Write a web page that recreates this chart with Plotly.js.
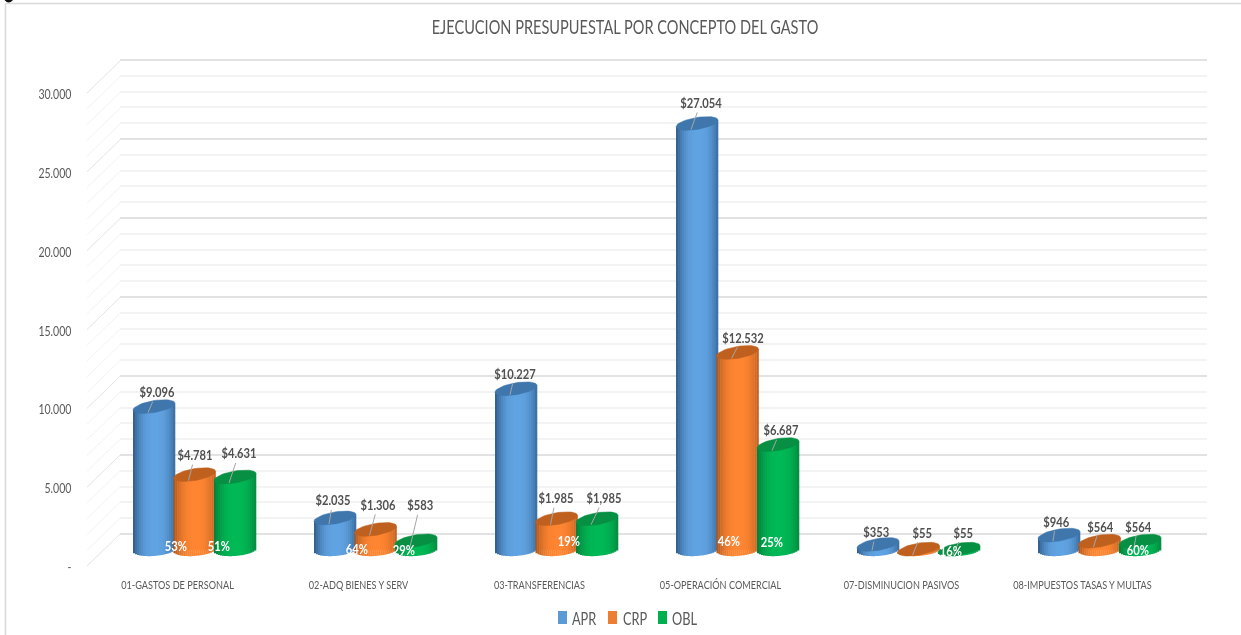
<!DOCTYPE html>
<html>
<head>
<meta charset="utf-8">
<script src="https://cdn.plot.ly/plotly-3.0.1.min.js"></script>
<style>html,body{margin:0;padding:0;background:#fff;overflow:hidden}#chart{width:1241px;height:635px;filter:blur(0.45px)}</style>
</head>
<body>
<div id="chart"></div>
<script>
// ---- data ----
const categories = ['01-GASTOS DE PERSONAL','02-ADQ BIENES Y SERV','03-TRANSFERENCIAS','05-OPERACIÓN COMERCIAL','07-DISMINUCION PASIVOS','08-IMPUESTOS TASAS Y MULTAS'];
const APR = [9096, 2035, 10227, 27054, 353, 946];
const CRP = [4781, 1306, 1985, 12532, 55, 564];
const OBL = [4631, 583, 1985, 6687, 55, 564];
const aprLabels = ['$9.096','$2.035','$10.227','$27.054','$353','$946'];
const crpLabels = ['$4.781','$1.306','$1.985','$12.532','$55','$564'];
const oblLabels = ['$4.631','$583','$1,985','$6.687','$55','$564'];
const crpShare = ['53%','64%','19%','46%','',''];
const oblShare = ['51%','29%','','25%','16%','60%'];
const yTickVals = [0,5000,10000,15000,20000,25000,30000];
const yTickText = ['-','5.000','10.000','15.000','20.000','25.000','30.000'];

// ---- placement (pixels) ----
const W = 1241, H = 635;
const FONT = 'Lato,"Open Sans",sans-serif';
const GREY = '#595959';
const pxPerUnit = 473 / 30000;
const pxPerCat = 181;
const barPx = 42, rx = 21, ry = 6, tilt = 0.16, tiltBottom = 0.07;
const labelOffsets = {
  APR: [[9,-21],[4,-24],[5,-21],[10,-27],[4,-19],[3,-20]],
  CRP: [[6.5,-26],[8.5,-31],[5.5,-27],[11,-21],[9.5,-23],[6.5,-21]],
  OBL: [[10,-30],[10,-42],[13,-27],[9,-21],[10,-23],[4,-21]]
};
const shareOffsets = {
  CRP: [[-18.5,5],[-18.5,2],[12.5,10],[-8.5,10],null,null],
  OBL: [[-16,5],[-12.5,1],null,[-6,9],[-8.5,0],[-2,1]]
};
const series = [
  {name:'APR', values:APR, labels:aprLabels, off:-40.5, base:'#5b9bd5', edge:[52,98,146],  mid:[96,163,226], cap:'#3f76ac'},
  {name:'CRP', values:CRP, labels:crpLabels, off:0,     base:'#ed7d31', edge:[178,88,27],  mid:[255,134,50], cap:'#bf601f', share:crpShare},
  {name:'OBL', values:OBL, labels:oblLabels, off:40.5,  base:'#00b050', edge:[5,130,60],   mid:[0,184,85],   cap:'#078f43', share:oblShare}
];

const px = v => v / W, py = v => 1 - v / H;
const v2u = p => p / pxPerUnit;   // pixel height -> value units

const traces = [];
const annotations = [];

// carriers so that the back wall and the front axes exist
traces.push({type:'scatter', mode:'markers', x:[0.5], y:[15000], xaxis:'x', yaxis:'y', opacity:0, hoverinfo:'skip', showlegend:false});

const STRIPS = 21;
series.forEach(s => {
  const center = s.off / pxPerCat;
  const fullW = barPx / pxPerCat;
  // main column (carries the values)
  traces.push({type:'bar', name:s.name, xaxis:'x2', yaxis:'y2',
    x:categories.map((_,i)=>i), y:s.values, width:fullW*0.8, offset:center-fullW*0.4,
    marker:{color:s.base, line:{width:0}}, hoverinfo:'y+name', showlegend:false});
  // cylinder shading: narrow strips across the column width
  const xs=[], ys=[], bs=[], cs=[], os=[];
  s.values.forEach((v,i)=>{
    for(let k=0;k<STRIPS;k++){
      const u = -1 + (2*k+1)/STRIPS;
      const curve = Math.sqrt(Math.max(0,1-u*u));
      const bottom = v2u(tiltBottom*rx*u - ry*curve);
      const top = v + v2u(tilt*rx*u);
      const f = 1 - Math.pow(Math.min(1,Math.abs(u-0.05)),2.6);
      const c = s.edge.map((e,j)=>Math.round(e+(s.mid[j]-e)*f));
      xs.push(i); ys.push(Math.max(0,top-bottom)); bs.push(bottom);
      cs.push('rgb('+c.join(',')+')');
      os.push(center + u*fullW/2 - fullW/STRIPS/2);
    }
  });
  traces.push({type:'bar', xaxis:'x2', yaxis:'y2', x:xs, y:ys, base:bs, offset:os, width:fullW/STRIPS*1.15,
    marker:{color:cs, line:{width:0}}, hoverinfo:'skip', showlegend:false});
});
// caps (drawn over the bars) and labels
series.forEach(s => {
  const center = s.off / pxPerCat;
  s.values.forEach((v,i)=>{
    const ex=[], ey=[];
    for(let a=0;a<=48;a++){
      const t=a/48*2*Math.PI;
      ex.push(i+center+rx*Math.cos(t)/pxPerCat);
      ey.push(v+v2u(ry*Math.sin(t)+tilt*rx*Math.cos(t)));
    }
    traces.push({type:'scatter', mode:'lines', xaxis:'x2', yaxis:'y2', x:ex, y:ey, fill:'toself',
      fillcolor:s.cap, line:{width:0.5,color:s.cap}, hoverinfo:'skip', showlegend:false});
    const o = labelOffsets[s.name][i];
    annotations.push({xref:'x2', yref:'y2', x:i+center-6/pxPerCat, y:v-v2u(6),
      ax:o[0], ay:o[1], text:s.labels[i], showarrow:true, arrowhead:0, arrowwidth:1, arrowcolor:'#a6a6a6', standoff:0,
      font:{family:FONT,size:14,color:'#505050',weight:700}});
    if(s.share && s.share[i]){
      const so = shareOffsets[s.name][i];
      annotations.push({xref:'x2', yref:'y2', x:i+center, y:0, xshift:so[0], yshift:so[1],
        text:s.share[i], showarrow:false, font:{family:FONT,size:14,color:'#ffffff',weight:700}});
    }
  });
});
traces.push({type:'scatter', mode:'markers', x:[2.5], y:[15000], xaxis:'x3', yaxis:'y3', opacity:0, hoverinfo:'skip', showlegend:false});

// side wall diagonals, one per back-wall gridline
const shapes = [];
for(let v=0;v<=30000;v+=1000){
  const major = v%5000===0;
  shapes.push({type:'line', xref:'paper', yref:'paper', layer:'below',
    x0:px(87), y0:py(566-v*pxPerUnit), x1:px(120), y1:py(534-v*pxPerUnit),
    line:{color:major?'#e4e4e4':'#f3f3f3', width:1}});
}
// chart frame
shapes.push({type:'line',xref:'paper',yref:'paper',x0:px(5.5),y0:py(3.5),x1:px(5.5),y1:0,line:{color:'#d9d9d9',width:1.5}});
shapes.push({type:'line',xref:'paper',yref:'paper',x0:px(5.5),y0:py(3.5),x1:1,y1:py(3.5),line:{color:'#d9d9d9',width:1.5}});
// cropped glyph at the top-left edge of the picture
shapes.push({type:'path',xref:'paper',yref:'paper',fillcolor:'#111',line:{width:0},
  path:'M '+px(4.5)+' 1 Q '+px(8.5)+' '+py(5)+' '+px(13)+' 1 Z'});

// legend row
const legendSwatchX = [558,608,658];
const legendTextX = [584.5,634.5,684.5];
series.forEach((s,i)=>{
  shapes.push({type:'rect',xref:'paper',yref:'paper',x0:px(legendSwatchX[i]),x1:px(legendSwatchX[i]+9),y0:py(624),y1:py(611),
    fillcolor:s.base,line:{width:0}});
  annotations.push({xref:'paper',yref:'paper',x:px(legendTextX[i]),y:py(617.5),xanchor:'center',yanchor:'middle',
    text:s.name,showarrow:false,font:{family:FONT,size:18,color:GREY}});
});

const layout = {
  width:W, height:H, autosize:false, margin:{l:0,r:0,t:0,b:0,pad:0},
  paper_bgcolor:'#fff', plot_bgcolor:'rgba(0,0,0,0)', showlegend:false, barmode:'overlay',
  title:{text:'EJECUCION PRESUPUESTAL POR CONCEPTO DEL GASTO', x:625/W, xanchor:'center', y:py(27), yanchor:'middle',
         font:{family:FONT,size:20,color:GREY}},
  // back wall
  xaxis:{domain:[px(120),px(1207)], range:[0,1], anchor:'y', visible:true, showgrid:false, showticklabels:false, ticks:'', zeroline:false, showline:false},
  yaxis:{domain:[py(534+500*pxPerUnit),py(60-300*pxPerUnit)], range:[-500,30300], anchor:'x', showgrid:true, gridcolor:'#e2e2e2', gridwidth:1.5, dtick:5000, tick0:0,
         minor:{dtick:1000, tick0:0, showgrid:true, gridcolor:'#f3f3f3', gridwidth:1.5, ticks:''},
         showticklabels:false, ticks:'', zeroline:false, showline:false},
  // mid-depth plane holding the columns
  xaxis2:{domain:[px(104),px(1190)], range:[-0.5,5.5], anchor:'y2', visible:false},
  yaxis2:{domain:[py(550+1000*pxPerUnit),py(77)], range:[-1000,30000], anchor:'x2', visible:false},
  // front plane holding the tick labels
  xaxis3:{domain:[px(87),px(1173)], range:[-0.5,5.5], anchor:'y3', tickmode:'array', tickvals:categories.map((_,i)=>i), ticktext:categories,
          ticks:'outside', ticklen:6.5, tickcolor:'rgba(0,0,0,0)', showgrid:false, zeroline:false, showline:false, tickangle:0,
          tickfont:{family:FONT,size:11.5,color:GREY}},
  yaxis3:{domain:[py(567.5),py(94.5)], range:[0,30000], anchor:'x3', tickmode:'array', tickvals:yTickVals, ticktext:yTickText,
          ticks:'outside', ticklen:12, tickcolor:'rgba(0,0,0,0)', showgrid:false, zeroline:false, showline:false,
          tickfont:{family:FONT,size:13,color:GREY}},
  annotations, shapes
};
// the reference uses a condensed face: narrow the real text to its widths
function condense(sel, factor, test){
  document.querySelectorAll(sel).forEach(t=>{
    if(test && !test(t.textContent)) return;
    const w=t.getComputedTextLength();
    if(w>0){t.setAttribute('textLength',(w*factor).toFixed(1));t.setAttribute('lengthAdjust','spacingAndGlyphs');}
  });
}
Plotly.newPlot('chart', traces, layout, {displayModeBar:false, responsive:false}).then(()=>{
  const names = series.map(s=>s.name);
  condense('.gtitle',0.728);
  condense('.x3tick text',0.795);
  condense('.y3tick text',0.81);
  condense('.annotation text',0.8,t=>!names.includes(t));
  condense('.annotation text',0.71,t=>names.includes(t));
});
</script>
</body>
</html>
